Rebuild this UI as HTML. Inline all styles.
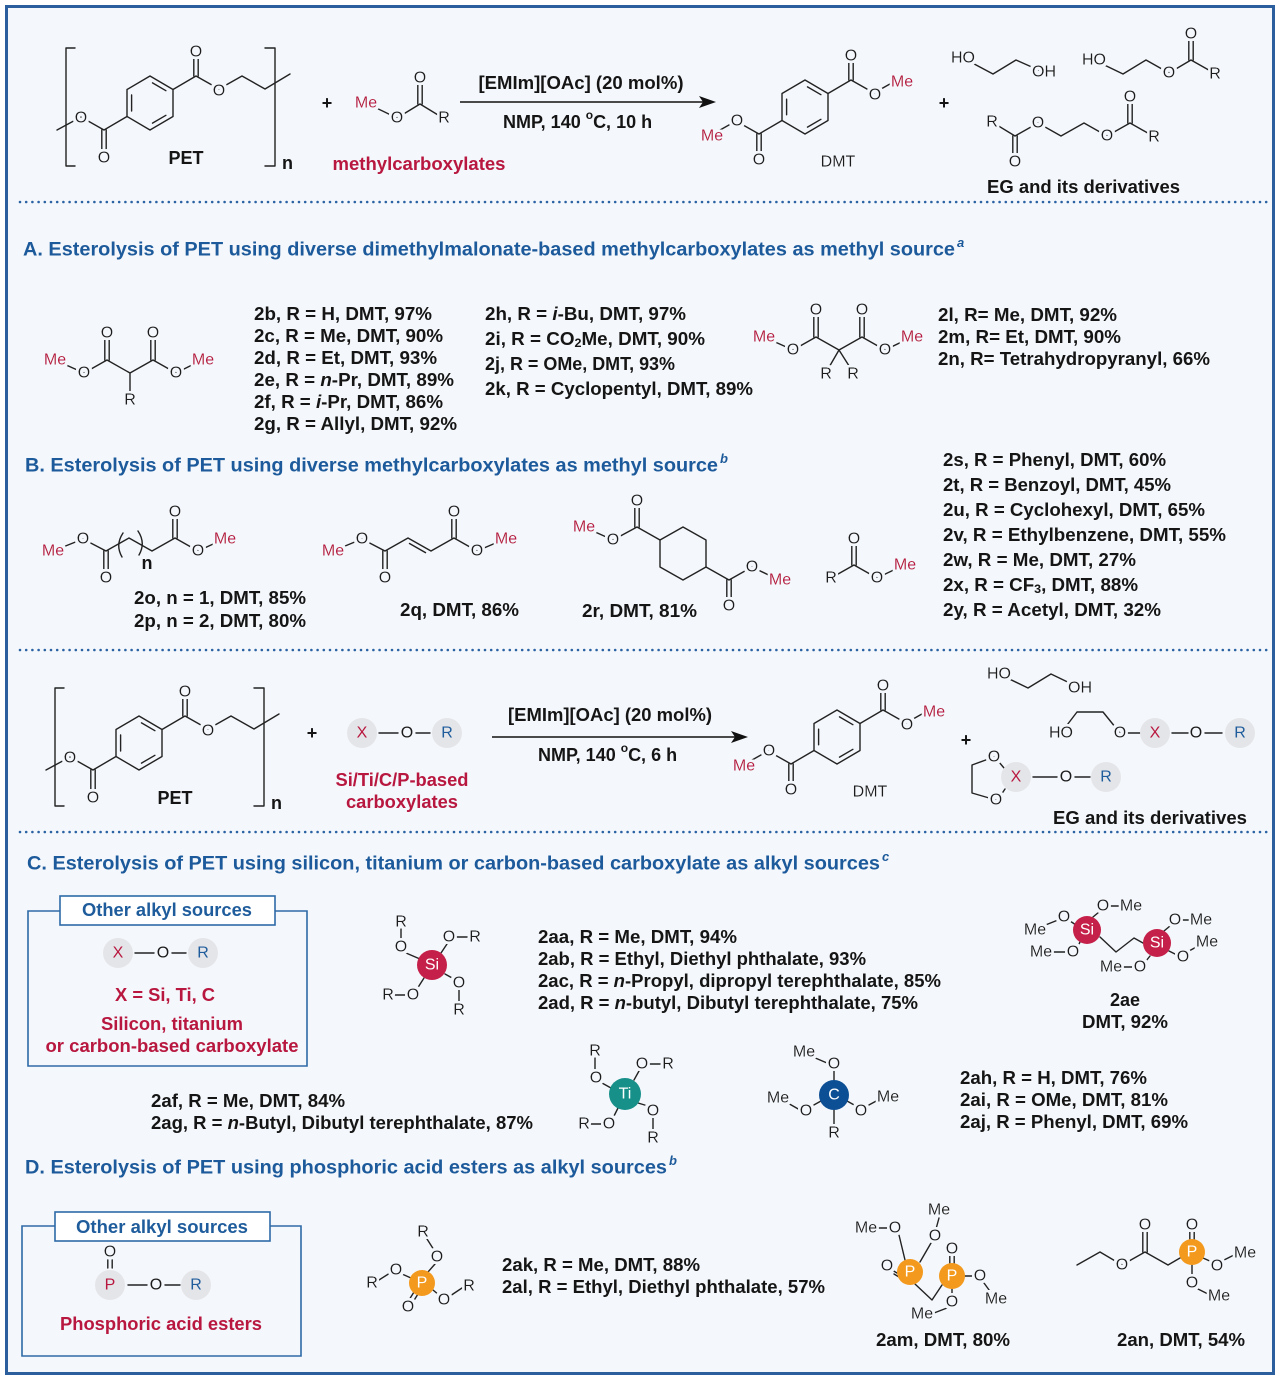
<!DOCTYPE html>
<html><head><meta charset="utf-8"><style>
html,body{margin:0;padding:0;background:#fff}
svg{display:block}
.b{stroke:#222;stroke-width:1.4;fill:none;stroke-linecap:round;stroke-linejoin:round}
.a{font-family:"Liberation Sans",sans-serif;font-size:16px;text-anchor:middle;dominant-baseline:central;fill:#1b1b1b;filter:url(#halo)}
.a.w,.a[stroke="none"]{filter:none}
.r{fill:#b8173f}
.bl{fill:#1f5c9c}
.w{fill:#fff;stroke:none}
.t{font-family:"Liberation Sans",sans-serif;font-weight:bold;font-size:18px;fill:#151515;dominant-baseline:central}
.c{text-anchor:middle}
.h{font-family:"Liberation Sans",sans-serif;font-weight:bold;font-size:19px;fill:#1c5a9b;dominant-baseline:central}
.sup{font-family:"Liberation Sans",sans-serif;font-style:italic;font-weight:bold;font-size:13px;fill:#1c5a9b}
.red{fill:#b8173f}
.blu{fill:#1f5c9c}
.dot{stroke:#2a62a3;stroke-width:2.6;stroke-dasharray:0 6.2;stroke-linecap:round}
.box{fill:none;stroke:#2e6aa8;stroke-width:1.6}
</style></head><body>
<svg xmlns="http://www.w3.org/2000/svg" width="1280" height="1380" viewBox="0 0 1280 1380">
<defs>
<filter id="halo" x="-60%" y="-60%" width="220%" height="220%">
<feMorphology in="SourceAlpha" operator="dilate" radius="2.4" result="d"/>
<feFlood flood-color="#f4f7fb"/>
<feComposite in2="d" operator="in" result="h"/>
<feMerge><feMergeNode in="h"/><feMergeNode in="SourceGraphic"/></feMerge>
</filter>
</defs>
<rect width="1280" height="1380" fill="#fff"/>
<rect x="6.5" y="6.5" width="1267" height="1367" fill="#f4f7fb" stroke="#2b5e9c" stroke-width="3"/>

<line class="dot" x1="20" y1="202" x2="1268" y2="202"/>
<line class="dot" x1="20" y1="650" x2="1268" y2="650"/>
<line class="dot" x1="20" y1="832" x2="1268" y2="832"/>

<!-- ===== TOP REACTION ===== -->
<g>
<path class="b" d="M75,48H66V166H75M265,48H275V166H265"/>
<text class="t" x="282" y="163">n</text>
<polygon class="b" points="150,76 173,89.5 173,116.5 150,130 127,116.5 127,89.5"/>
<path class="b" d="M152.5,82.9L165.9,90.7M165.9,115.3L152.5,123.1M131.6,111V95"/>
<path class="b" d="M173,89.5L196,76L219,89L242,76L265,89L290,74M193.8,76V59M198.2,76V59"/>
<path class="b" d="M127,116.5L104,130L81,117L57,130M101.8,130V151M106.2,130V151"/>
<text class="a" x="196" y="52">O</text>
<text class="a" x="219" y="91">O</text>
<text class="a" x="81" y="118">O</text>
<text class="a" x="104" y="158">O</text>
<text class="t c" x="186" y="158">PET</text>
</g>

<text class="t c" x="327" y="103" font-size="20">+</text>
<path class="b" d="M366,103L397,118L420,104L443,118M417.8,104V84M422.2,104V84"/>
<text class="a r" x="366" y="103">Me</text>
<text class="a" x="397" y="118">O</text>
<text class="a" x="420" y="78">O</text>
<text class="a" x="444" y="118">R</text>
<text class="t c red" x="419" y="164" font-size="19" textLength="173" lengthAdjust="spacingAndGlyphs">methylcarboxylates</text>

<line x1="460" y1="102" x2="704" y2="102" stroke="#111" stroke-width="1.6"/>
<polygon points="716,102 699,96 703,102 699,108" fill="#111"/>
<text class="t c" x="581" y="83" textLength="205" lengthAdjust="spacingAndGlyphs">[EMIm][OAc] (20 mol%)</text>
<text class="t" x="503" y="122">NMP, 140 <tspan font-size="12" dy="-7">o</tspan><tspan dy="7">C, 10 h</tspan></text>

<g>
<polygon class="b" points="805,80 828,93.5 828,120.5 805,134 782,120.5 782,93.5"/>
<path class="b" d="M807.5,86.9L820.9,94.7M820.9,119.3L807.5,127.1M786.6,114.8V99.2"/>
<path class="b" d="M828,93.5L851,80L874,93L897,80M848.8,80V62M853.2,80V62"/>
<path class="b" d="M782,120.5L759,134L736,121L713,134M756.8,134V154M761.2,134V154"/>
<text class="a" x="851" y="56">O</text>
<text class="a" x="875" y="95">O</text>
<text class="a r" x="902" y="82">Me</text>
<text class="a" x="737" y="121">O</text>
<text class="a r" x="712" y="136">Me</text>
<text class="a" x="759" y="160">O</text>
<text class="a" x="838" y="162" font-size="15">DMT</text>
</g>

<text class="t c" x="944" y="103" font-size="20">+</text>
<path class="b" d="M963,58L993,74L1016,60L1043,72"/>
<text class="a" x="963" y="58">HO</text>
<text class="a" x="1044" y="72">OH</text>
<path class="b" d="M1094,60L1123,74L1146,60L1169,73L1191,60L1214,73M1188.8,60V40M1193.2,60V40"/>
<text class="a" x="1094" y="60">HO</text>
<text class="a" x="1169" y="73">O</text>
<text class="a" x="1191" y="34">O</text>
<text class="a" x="1215" y="74">R</text>
<path class="b" d="M992,122L1015,136L1038,123L1061,136L1084,123L1107,136L1130,123L1153,136M1012.8,136V157M1017.2,136V157M1127.8,123V103M1132.2,123V103"/>
<text class="a" x="992" y="122">R</text>
<text class="a" x="1015" y="162">O</text>
<text class="a" x="1038" y="123">O</text>
<text class="a" x="1107" y="136">O</text>
<text class="a" x="1130" y="97">O</text>
<text class="a" x="1154" y="137">R</text>
<text class="t" x="987" y="187" font-size="19" textLength="193" lengthAdjust="spacingAndGlyphs">EG and its derivatives</text>

<!-- ===== SECTION A ===== -->
<text class="h" x="23" y="250" textLength="932" lengthAdjust="spacingAndGlyphs">A. Esterolysis of PET using diverse dimethylmalonate-based methylcarboxylates as methyl source</text>
<text class="sup" x="957" y="247">a</text>

<path class="b" d="M55,360L84,373L107,360L130,373L153,360L176,373L202,360M130,373V400M104.8,360V338M109.2,360V338M150.8,360V338M155.2,360V338"/>
<text class="a r" x="55" y="360">Me</text>
<text class="a" x="84" y="373">O</text>
<text class="a" x="107" y="333">O</text>
<text class="a" x="130" y="400">R</text>
<text class="a" x="153" y="333">O</text>
<text class="a" x="176" y="373">O</text>
<text class="a r" x="203" y="360">Me</text>

<text class="t" x="254" y="314" textLength="178" lengthAdjust="spacingAndGlyphs">2b, R = H, DMT, 97%</text>
<text class="t" x="254" y="336" textLength="189" lengthAdjust="spacingAndGlyphs">2c, R = Me, DMT, 90%</text>
<text class="t" x="254" y="358" textLength="183" lengthAdjust="spacingAndGlyphs">2d, R = Et, DMT, 93%</text>
<text class="t" x="254" y="380" textLength="200" lengthAdjust="spacingAndGlyphs">2e, R = <tspan font-style="italic">n</tspan>-Pr, DMT, 89%</text>
<text class="t" x="254" y="402" textLength="189" lengthAdjust="spacingAndGlyphs">2f, R = <tspan font-style="italic">i</tspan>-Pr, DMT, 86%</text>
<text class="t" x="254" y="424" textLength="203" lengthAdjust="spacingAndGlyphs">2g, R = Allyl, DMT, 92%</text>

<text class="t" x="485" y="314" textLength="201" lengthAdjust="spacingAndGlyphs">2h, R = <tspan font-style="italic">i</tspan>-Bu, DMT, 97%</text>
<text class="t" x="485" y="339" textLength="220" lengthAdjust="spacingAndGlyphs">2i, R = CO<tspan font-size="12" dy="4">2</tspan><tspan dy="-4">Me, DMT, 90%</tspan></text>
<text class="t" x="485" y="364" textLength="190" lengthAdjust="spacingAndGlyphs">2j, R = OMe, DMT, 93%</text>
<text class="t" x="485" y="389" textLength="268" lengthAdjust="spacingAndGlyphs">2k, R = Cyclopentyl, DMT, 89%</text>

<path class="b" d="M764,337L793,350L816,337L839,350L862,337L885,350L912,337M839,350L828,369M839,350L851,369M813.8,337V316M818.2,337V316M859.8,337V316M864.2,337V316"/>
<text class="a r" x="764" y="337">Me</text>
<text class="a" x="793" y="350">O</text>
<text class="a" x="816" y="310">O</text>
<text class="a" x="862" y="310">O</text>
<text class="a" x="885" y="350">O</text>
<text class="a r" x="912" y="337">Me</text>
<text class="a" x="826" y="374">R</text>
<text class="a" x="853" y="374">R</text>

<text class="t" x="938" y="315" textLength="179" lengthAdjust="spacingAndGlyphs">2l, R= Me, DMT, 92%</text>
<text class="t" x="938" y="337" textLength="183" lengthAdjust="spacingAndGlyphs">2m, R= Et, DMT, 90%</text>
<text class="t" x="938" y="359" textLength="272" lengthAdjust="spacingAndGlyphs">2n, R= Tetrahydropyranyl, 66%</text>

<!-- ===== SECTION B ===== -->
<text class="h" x="25" y="466" textLength="693" lengthAdjust="spacingAndGlyphs">B. Esterolysis of PET using diverse methylcarboxylates as methyl source</text>
<text class="sup" x="720" y="463">b</text>

<path class="b" d="M53,551L83,539L106,551L129,538L152,551L175,538L198,551L224,539M103.8,551V572M108.2,551V572M172.8,538V518M177.2,538V518"/>
<path class="b" d="M123,533Q115,545 122,557M138,531Q146,543 139,555"/>
<text class="a r" x="53" y="551">Me</text>
<text class="a" x="83" y="539">O</text>
<text class="a" x="106" y="578">O</text>
<text class="a" x="175" y="512">O</text>
<text class="a" x="198" y="551">O</text>
<text class="a r" x="225" y="539">Me</text>
<text class="t c" x="147" y="563" font-size="17">n</text>
<text class="t" x="134" y="598" textLength="172" lengthAdjust="spacingAndGlyphs">2o, n = 1, DMT, 85%</text>
<text class="t" x="134" y="621" textLength="172" lengthAdjust="spacingAndGlyphs">2p, n = 2, DMT, 80%</text>

<path class="b" d="M333,551L362,539L385,551L408,538L431,551L454,538L477,551L505,539M382.8,551V572M387.2,551V572M451.8,538V518M456.2,538V518M409.5,543.5L425.5,552.6"/>
<text class="a r" x="333" y="551">Me</text>
<text class="a" x="362" y="539">O</text>
<text class="a" x="385" y="578">O</text>
<text class="a" x="454" y="512">O</text>
<text class="a" x="477" y="551">O</text>
<text class="a r" x="506" y="539">Me</text>
<text class="t" x="400" y="610" textLength="119" lengthAdjust="spacingAndGlyphs">2q, DMT, 86%</text>

<path class="b" d="M584,527L613,540L637,527L660,540M634.8,527V507M639.2,527V507M706,567L729,580L752,567L779,580M726.8,580V600M731.2,580V600"/>
<polygon class="b" points="660,540 683,527 706,540 706,567 683,580 660,567"/>
<text class="a r" x="584" y="527">Me</text>
<text class="a" x="613" y="540">O</text>
<text class="a" x="637" y="501">O</text>
<text class="a" x="729" y="606">O</text>
<text class="a" x="752" y="567">O</text>
<text class="a r" x="780" y="580">Me</text>
<text class="t" x="582" y="611" textLength="115" lengthAdjust="spacingAndGlyphs">2r, DMT, 81%</text>

<path class="b" d="M831,578L854,565L877,578L904,565M851.8,565V545M856.2,565V545"/>
<text class="a" x="831" y="578">R</text>
<text class="a" x="854" y="539">O</text>
<text class="a" x="877" y="578">O</text>
<text class="a r" x="905" y="565">Me</text>

<text class="t" x="943" y="460" textLength="223" lengthAdjust="spacingAndGlyphs">2s, R = Phenyl, DMT, 60%</text>
<text class="t" x="943" y="485" textLength="228" lengthAdjust="spacingAndGlyphs">2t, R = Benzoyl, DMT, 45%</text>
<text class="t" x="943" y="510" textLength="262" lengthAdjust="spacingAndGlyphs">2u, R = Cyclohexyl, DMT, 65%</text>
<text class="t" x="943" y="535" textLength="283" lengthAdjust="spacingAndGlyphs">2v, R = Ethylbenzene, DMT, 55%</text>
<text class="t" x="943" y="560" textLength="193" lengthAdjust="spacingAndGlyphs">2w, R = Me, DMT, 27%</text>
<text class="t" x="943" y="585" textLength="195" lengthAdjust="spacingAndGlyphs">2x, R = CF<tspan font-size="12" dy="4">3</tspan><tspan dy="-4">, DMT, 88%</tspan></text>
<text class="t" x="943" y="610" textLength="218" lengthAdjust="spacingAndGlyphs">2y, R = Acetyl, DMT, 32%</text>

<!-- ===== SECOND REACTION ===== -->
<g transform="translate(-11,640)">
<path class="b" d="M75,48H66V166H75M265,48H275V166H265"/>
<text class="t" x="282" y="163">n</text>
<polygon class="b" points="150,76 173,89.5 173,116.5 150,130 127,116.5 127,89.5"/>
<path class="b" d="M152.5,82.9L165.9,90.7M165.9,115.3L152.5,123.1M131.6,111V95"/>
<path class="b" d="M173,89.5L196,76L219,89L242,76L265,89L290,74M193.8,76V59M198.2,76V59"/>
<path class="b" d="M127,116.5L104,130L81,117L57,130M101.8,130V151M106.2,130V151"/>
<text class="a" x="196" y="52">O</text>
<text class="a" x="219" y="91">O</text>
<text class="a" x="81" y="118">O</text>
<text class="a" x="104" y="158">O</text>
<text class="t c" x="186" y="158">PET</text>
</g>

<text class="t c" x="312" y="733" font-size="20">+</text>
<circle cx="362" cy="733" r="15" fill="#e4e5e8"/>
<text class="a r" x="362" y="733" stroke="none">X</text>
<path class="b" d="M379,733H398M416,733H430"/>
<text class="a" x="407" y="733" stroke="none">O</text>
<circle cx="447" cy="733" r="15" fill="#e4e5e8"/>
<text class="a bl" x="447" y="733" stroke="none">R</text>
<text class="t c red" x="402" y="780" textLength="133" lengthAdjust="spacingAndGlyphs">Si/Ti/C/P-based</text>
<text class="t c red" x="402" y="802" textLength="112" lengthAdjust="spacingAndGlyphs">carboxylates</text>

<line x1="492" y1="737" x2="736" y2="737" stroke="#111" stroke-width="1.6"/>
<polygon points="748,737 731,731 735,737 731,743" fill="#111"/>
<text class="t c" x="610" y="715" textLength="204" lengthAdjust="spacingAndGlyphs">[EMIm][OAc] (20 mol%)</text>
<text class="t" x="538" y="755">NMP, 140 <tspan font-size="12" dy="-7">o</tspan><tspan dy="7">C, 6 h</tspan></text>

<g transform="translate(32,630)">
<polygon class="b" points="805,80 828,93.5 828,120.5 805,134 782,120.5 782,93.5"/>
<path class="b" d="M807.5,86.9L820.9,94.7M820.9,119.3L807.5,127.1M786.6,114.8V99.2"/>
<path class="b" d="M828,93.5L851,80L874,93L897,80M848.8,80V62M853.2,80V62"/>
<path class="b" d="M782,120.5L759,134L736,121L713,134M756.8,134V154M761.2,134V154"/>
<text class="a" x="851" y="56">O</text>
<text class="a" x="875" y="95">O</text>
<text class="a r" x="902" y="82">Me</text>
<text class="a" x="737" y="121">O</text>
<text class="a r" x="712" y="136">Me</text>
<text class="a" x="759" y="160">O</text>
<text class="a" x="838" y="162" font-size="15">DMT</text>
</g>

<text class="t c" x="966" y="740" font-size="20">+</text>
<path class="b" d="M999,674L1028,688L1051,674L1080,688"/>
<text class="a" x="999" y="674">HO</text>
<text class="a" x="1080" y="688">OH</text>
<path class="b" d="M1061,733L1077,712H1103L1120,733M1128,733H1140"/>
<text class="a" x="1061" y="733">HO</text>
<text class="a" x="1120" y="733">O</text>
<circle cx="1155" cy="733" r="15" fill="#e4e5e8"/>
<text class="a r" x="1155" y="733" stroke="none">X</text>
<path class="b" d="M1172,733H1188M1205,733H1222"/>
<text class="a" x="1196" y="733" stroke="none">O</text>
<circle cx="1240" cy="733" r="15" fill="#e4e5e8"/>
<text class="a bl" x="1240" y="733" stroke="none">R</text>
<path class="b" d="M994,757L972,765V793L996,800M999,762L1004,768M1001,795L1005,789"/>
<text class="a" x="994" y="757">O</text>
<text class="a" x="996" y="800">O</text>
<circle cx="1016" cy="777" r="15" fill="#e4e5e8"/>
<text class="a r" x="1016" y="777" stroke="none">X</text>
<path class="b" d="M1033,777H1057M1075,777H1090"/>
<text class="a" x="1066" y="777" stroke="none">O</text>
<circle cx="1106" cy="777" r="15" fill="#e4e5e8"/>
<text class="a bl" x="1106" y="777" stroke="none">R</text>
<text class="t" x="1053" y="818" font-size="19" textLength="194" lengthAdjust="spacingAndGlyphs">EG and its derivatives</text>

<!-- ===== SECTION C ===== -->
<text class="h" x="27" y="864" textLength="853" lengthAdjust="spacingAndGlyphs">C. Esterolysis of PET using silicon, titanium or carbon-based carboxylate as alkyl sources</text>
<text class="sup" x="882" y="861">c</text>

<path class="box" d="M60,911H28V1066H307V911H275"/>
<rect x="60" y="896" width="215" height="29" fill="#fff" stroke="#2e6aa8" stroke-width="1.6"/>
<text class="t c blu" x="167" y="910" textLength="170" lengthAdjust="spacingAndGlyphs">Other alkyl sources</text>
<circle cx="118" cy="953" r="15" fill="#e4e5e8"/>
<text class="a r" x="118" y="953" stroke="none">X</text>
<path class="b" d="M135,953H154M172,953H186"/>
<text class="a" x="163" y="953" stroke="none">O</text>
<circle cx="203" cy="953" r="15" fill="#e4e5e8"/>
<text class="a bl" x="203" y="953" stroke="none">R</text>
<text class="t c red" x="165" y="995" textLength="100" lengthAdjust="spacingAndGlyphs">X = Si, Ti, C</text>
<text class="t c red" x="172" y="1024" textLength="142" lengthAdjust="spacingAndGlyphs">Silicon, titanium</text>
<text class="t c red" x="172" y="1046" textLength="253" lengthAdjust="spacingAndGlyphs">or carbon-based carboxylate</text>

<!-- Si -->
<path class="b" d="M401,929V940M406,953L420,959M441,953L447,944M456,937H467M445,974L454,979M459,990V1003M395,995H405M417,989L424,978"/>
<circle cx="432" cy="965" r="15" fill="#c5204a"/>
<text class="a w" x="432" y="965">Si</text>
<text class="a" x="401" y="922">R</text>
<text class="a" x="401" y="947">O</text>
<text class="a" x="449" y="937">O</text>
<text class="a" x="475" y="937">R</text>
<text class="a" x="459" y="983">O</text>
<text class="a" x="459" y="1010">R</text>
<text class="a" x="388" y="995">R</text>
<text class="a" x="413" y="995">O</text>

<text class="t" x="538" y="937" textLength="199" lengthAdjust="spacingAndGlyphs">2aa, R = Me, DMT, 94%</text>
<text class="t" x="538" y="959" textLength="328" lengthAdjust="spacingAndGlyphs">2ab, R = Ethyl, Diethyl phthalate, 93%</text>
<text class="t" x="538" y="981" textLength="403" lengthAdjust="spacingAndGlyphs">2ac, R = <tspan font-style="italic">n</tspan>-Propyl, dipropyl terephthalate, 85%</text>
<text class="t" x="538" y="1003" textLength="380" lengthAdjust="spacingAndGlyphs">2ad, R = <tspan font-style="italic">n</tspan>-butyl, Dibutyl terephthalate, 75%</text>

<!-- 2ae -->
<path class="b" d="M1043,926L1058,920M1070,921L1076,925M1093,917L1099,912M1110,906H1120M1050,952H1066M1078,946L1080,942M1100,937L1116,952L1134,938L1143,943M1164,931L1170,926M1182,920H1192M1169,951L1177,955M1189,951L1200,945M1120,967H1133M1146,961L1150,956"/>
<circle cx="1087" cy="930" r="14" fill="#c5204a"/>
<text class="a w" x="1087" y="930">Si</text>
<circle cx="1157" cy="943" r="14" fill="#c5204a"/>
<text class="a w" x="1157" y="943">Si</text>
<text class="a" x="1035" y="930">Me</text>
<text class="a" x="1064" y="917">O</text>
<text class="a" x="1103" y="906">O</text>
<text class="a" x="1131" y="906">Me</text>
<text class="a" x="1041" y="952">Me</text>
<text class="a" x="1073" y="952">O</text>
<text class="a" x="1175" y="920">O</text>
<text class="a" x="1201" y="920">Me</text>
<text class="a" x="1183" y="957">O</text>
<text class="a" x="1207" y="942">Me</text>
<text class="a" x="1111" y="967">Me</text>
<text class="a" x="1140" y="967">O</text>
<text class="t c" x="1125" y="1000">2ae</text>
<text class="t c" x="1125" y="1022" textLength="86" lengthAdjust="spacingAndGlyphs">DMT, 92%</text>

<text class="t" x="151" y="1101" textLength="194" lengthAdjust="spacingAndGlyphs">2af, R = Me, DMT, 84%</text>
<text class="t" x="151" y="1123" textLength="382" lengthAdjust="spacingAndGlyphs">2ag, R = <tspan font-style="italic">n</tspan>-Butyl, Dibutyl terephthalate, 87%</text>

<!-- Ti -->
<path class="b" d="M595,1058V1070M602,1083L611,1088M634,1080L639,1071M650,1064H660M638,1103L648,1106M653,1118V1130M591,1124H601M613,1118L618,1108"/>
<circle cx="625" cy="1094" r="16" fill="#17908a"/>
<text class="a w" x="625" y="1094">Ti</text>
<text class="a" x="595" y="1051">R</text>
<text class="a" x="596" y="1078">O</text>
<text class="a" x="642" y="1064">O</text>
<text class="a" x="668" y="1064">R</text>
<text class="a" x="653" y="1111">O</text>
<text class="a" x="653" y="1138">R</text>
<text class="a" x="584" y="1124">R</text>
<text class="a" x="609" y="1124">O</text>

<!-- C -->
<path class="b" d="M813,1057L827,1063M834,1071V1080M786,1102L800,1110M812,1106L821,1101M847,1101L856,1106M867,1106L880,1099M834,1110V1126"/>
<circle cx="834" cy="1095" r="15" fill="#0d4f94"/>
<text class="a w" x="834" y="1095">C</text>
<text class="a" x="804" y="1052">Me</text>
<text class="a" x="834" y="1064">O</text>
<text class="a" x="778" y="1098">Me</text>
<text class="a" x="806" y="1111">O</text>
<text class="a" x="861" y="1111">O</text>
<text class="a" x="888" y="1097">Me</text>
<text class="a" x="834" y="1133">R</text>

<text class="t" x="960" y="1078" textLength="187" lengthAdjust="spacingAndGlyphs">2ah, R = H, DMT, 76%</text>
<text class="t" x="960" y="1100" textLength="208" lengthAdjust="spacingAndGlyphs">2ai, R = OMe, DMT, 81%</text>
<text class="t" x="960" y="1122" textLength="228" lengthAdjust="spacingAndGlyphs">2aj, R = Phenyl, DMT, 69%</text>

<!-- ===== SECTION D ===== -->
<text class="h" x="25" y="1168" textLength="642" lengthAdjust="spacingAndGlyphs">D. Esterolysis of PET using phosphoric acid esters as alkyl sources</text>
<text class="sup" x="669" y="1165">b</text>

<path class="box" d="M55,1226H22V1356H301V1226H270"/>
<rect x="55" y="1212" width="215" height="29" fill="#fff" stroke="#2e6aa8" stroke-width="1.6"/>
<text class="t c blu" x="162" y="1227" textLength="172" lengthAdjust="spacingAndGlyphs">Other alkyl sources</text>
<circle cx="110" cy="1285" r="15" fill="#e4e5e8"/>
<text class="a r" x="110" y="1285" stroke="none">P</text>
<path class="b" d="M107.8,1260V1268M112.2,1260V1268M128,1285H147M165,1285H180"/>
<text class="a" x="110" y="1252">O</text>
<text class="a" x="156" y="1285" stroke="none">O</text>
<circle cx="196" cy="1285" r="15" fill="#e4e5e8"/>
<text class="a bl" x="196" y="1285" stroke="none">R</text>
<text class="t c red" x="161" y="1324" textLength="202" lengthAdjust="spacingAndGlyphs">Phosphoric acid esters</text>

<!-- P ester -->
<path class="b" d="M427,1239L434,1250M435,1264L428,1272M379,1280L390,1273M402,1274L411,1278M433,1290L439,1295M450,1296L462,1288M414,1292L409,1300M418,1294L413,1302"/>
<circle cx="422" cy="1283" r="13" fill="#f39a1e"/>
<text class="a w" x="422" y="1283">P</text>
<text class="a" x="423" y="1232">R</text>
<text class="a" x="437" y="1257">O</text>
<text class="a" x="396" y="1270">O</text>
<text class="a" x="372" y="1283">R</text>
<text class="a" x="444" y="1300">O</text>
<text class="a" x="469" y="1286">R</text>
<text class="a" x="408" y="1307">O</text>

<text class="t" x="502" y="1265" textLength="198" lengthAdjust="spacingAndGlyphs">2ak, R = Me, DMT, 88%</text>
<text class="t" x="502" y="1287" textLength="323" lengthAdjust="spacingAndGlyphs">2al, R = Ethyl, Diethyl phthalate, 57%</text>

<!-- 2am -->
<path class="b" d="M875,1228H887M899,1235L905,1260M939,1218L936,1229M931,1243L920,1262M897,1273L892,1270M899,1277L894,1274M915,1284L932,1300L942,1285M949.8,1263V1255M954.2,1263V1255M965,1276H974M984,1283L992,1294M952,1289V1295M947,1308L934,1313"/>
<circle cx="910" cy="1272" r="13" fill="#f39a1e"/>
<text class="a w" x="910" y="1272">P</text>
<circle cx="952" cy="1276" r="13" fill="#f39a1e"/>
<text class="a w" x="952" y="1276">P</text>
<text class="a" x="866" y="1228">Me</text>
<text class="a" x="895" y="1228">O</text>
<text class="a" x="939" y="1210">Me</text>
<text class="a" x="935" y="1236">O</text>
<text class="a" x="887" y="1266">O</text>
<text class="a" x="952" y="1249">O</text>
<text class="a" x="980" y="1276">O</text>
<text class="a" x="996" y="1299">Me</text>
<text class="a" x="952" y="1302">O</text>
<text class="a" x="922" y="1314">Me</text>
<text class="t" x="876" y="1340" textLength="134" lengthAdjust="spacingAndGlyphs">2am, DMT, 80%</text>

<!-- 2an -->
<path class="b" d="M1077,1265L1100,1252L1122,1265L1145,1252L1168,1265L1180,1258M1142.8,1252V1231M1147.2,1252V1231M1189.8,1239V1231M1194.2,1239V1231M1203,1258L1212,1262M1222,1261L1236,1254M1192,1265V1276M1198,1289L1210,1295"/>
<circle cx="1192" cy="1252" r="13" fill="#f39a1e"/>
<text class="a w" x="1192" y="1252">P</text>
<text class="a" x="1122" y="1265">O</text>
<text class="a" x="1145" y="1225">O</text>
<text class="a" x="1192" y="1225">O</text>
<text class="a" x="1217" y="1266">O</text>
<text class="a" x="1245" y="1253">Me</text>
<text class="a" x="1192" y="1283">O</text>
<text class="a" x="1219" y="1296">Me</text>
<text class="t" x="1117" y="1340" textLength="128" lengthAdjust="spacingAndGlyphs">2an, DMT, 54%</text>
</svg>
</body></html>
